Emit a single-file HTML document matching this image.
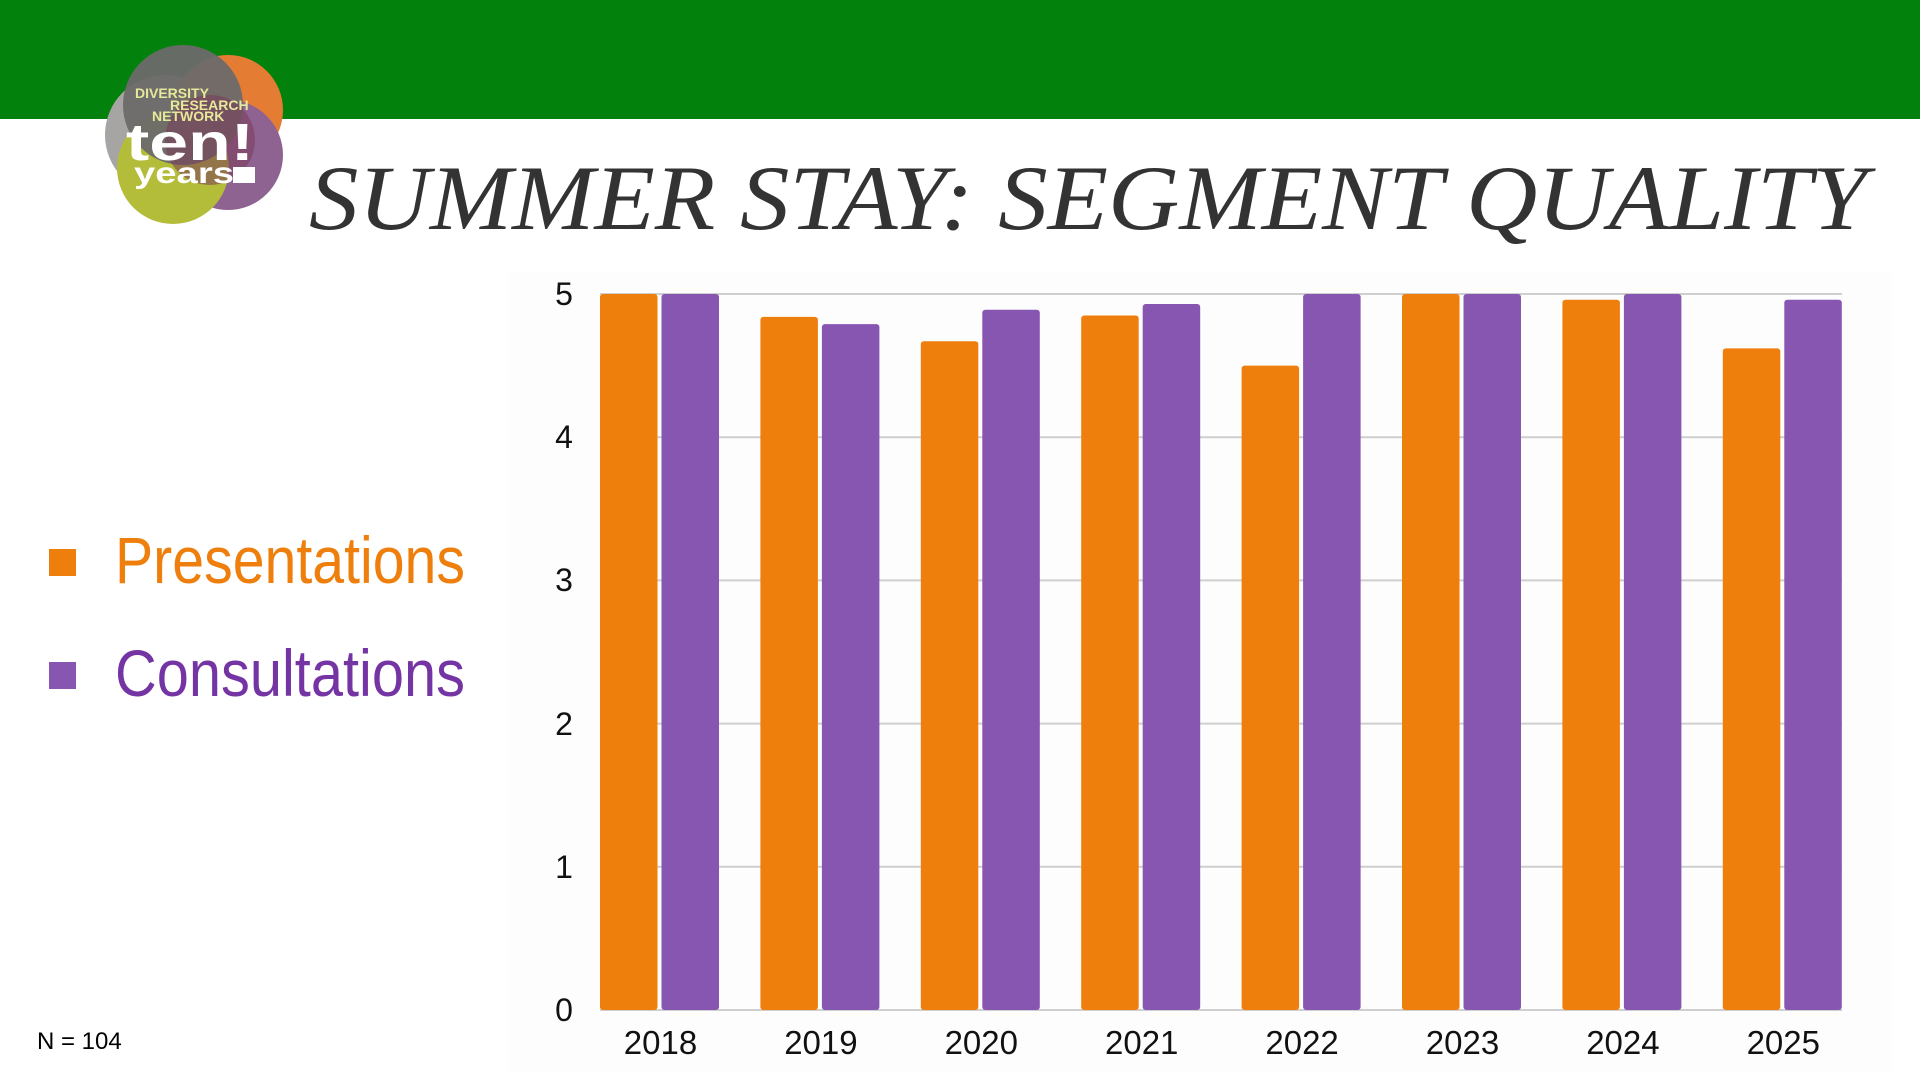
<!DOCTYPE html>
<html><head><meta charset="utf-8"><style>
html,body{margin:0;padding:0;width:1920px;height:1080px;overflow:hidden;background:#fff}
svg{display:block}
</style></head><body>
<svg width="1920" height="1080" viewBox="0 0 1920 1080" xmlns="http://www.w3.org/2000/svg">
<rect x="0" y="0" width="1920" height="1080" fill="#fff"/>
<rect x="0" y="0" width="1920" height="119" fill="#02820c"/>
<rect x="508" y="272" width="1384" height="800" fill="#fdfdfd"/>
<!-- logo -->
<g>
<circle cx="165" cy="135" r="60" fill="#a7a5a3"/>
<circle cx="228" cy="110" r="55" fill="#e57c33"/>
<circle cx="228" cy="155" r="55" fill="#8e6391"/>
<circle cx="173" cy="168" r="56" fill="#b4bd3a"/>
<circle cx="183" cy="105" r="60" fill="#6c6a6a" opacity="0.95"/>
<circle cx="210" cy="140" r="45" fill="#7a3b58" opacity="0.55"/>
<text x="135" y="98" font-family="Liberation Sans, sans-serif" font-weight="bold" font-size="14" fill="#e6e89a">DIVERSITY</text>
<text x="170" y="110" font-family="Liberation Sans, sans-serif" font-weight="bold" font-size="14" fill="#e6e89a">RESEARCH</text>
<text x="152" y="121" font-family="Liberation Sans, sans-serif" font-weight="bold" font-size="14" fill="#e6e89a">NETWORK</text>
<text x="126" y="160" font-family="Liberation Sans, sans-serif" font-weight="bold" font-size="52" fill="#fff" textLength="128" lengthAdjust="spacingAndGlyphs">ten!</text>
<text x="134" y="183" font-family="Liberation Sans, sans-serif" font-weight="bold" font-size="30" fill="#fff" textLength="100" lengthAdjust="spacingAndGlyphs">years</text>
<rect x="233" y="167" width="22" height="16" fill="#fff"/>
</g>
<text x="309" y="229" font-family="Liberation Serif, serif" font-style="italic" font-size="92" fill="#333" textLength="1558" lengthAdjust="spacingAndGlyphs">SUMMER STAY: SEGMENT QUALITY</text>
<!-- legend -->
<rect x="49" y="549" width="27" height="27" fill="#ef7f0c"/>
<text x="115" y="583" font-family="Liberation Sans Narrow, Liberation Sans, sans-serif" font-size="66" fill="#ef7f0c" textLength="350" lengthAdjust="spacingAndGlyphs">Presentations</text>
<rect x="49" y="662" width="27" height="27" fill="#8656b0"/>
<text x="115" y="696" font-family="Liberation Sans Narrow, Liberation Sans, sans-serif" font-size="66" fill="#7534a4" textLength="350" lengthAdjust="spacingAndGlyphs">Consultations</text>
<text x="37" y="1049" font-family="Liberation Sans, sans-serif" font-size="24" fill="#000">N = 104</text>
<!-- grid -->
<g stroke="#cfcfcf" stroke-width="2">
<line x1="600" x2="1842" y1="294" y2="294"/>
<line x1="600" x2="1842" y1="437.2" y2="437.2"/>
<line x1="600" x2="1842" y1="580.4" y2="580.4"/>
<line x1="600" x2="1842" y1="723.6" y2="723.6"/>
<line x1="600" x2="1842" y1="866.8" y2="866.8"/>
<line x1="600" x2="1842" y1="1010" y2="1010"/>
</g>
<g font-family="Liberation Sans, sans-serif" font-size="32" fill="#111" text-anchor="middle">
<text x="564" y="305">5</text>
<text x="564" y="448">4</text>
<text x="564" y="591">3</text>
<text x="564" y="735">2</text>
<text x="564" y="878">1</text>
<text x="564" y="1021">0</text>
</g>
<!-- bars -->
<g fill="#ef7f0c">
<rect x="600" y="294" width="57.5" height="716" rx="3"/>
<rect x="760.4" y="316.9" width="57.5" height="693.1" rx="3"/>
<rect x="920.8" y="341.3" width="57.5" height="668.7" rx="3"/>
<rect x="1081.2" y="315.5" width="57.5" height="694.5" rx="3"/>
<rect x="1241.6" y="365.6" width="57.5" height="644.4" rx="3"/>
<rect x="1402" y="294" width="57.5" height="716" rx="3"/>
<rect x="1562.4" y="299.7" width="57.5" height="710.3" rx="3"/>
<rect x="1722.8" y="348.4" width="57.5" height="661.6" rx="3"/>
</g>
<g fill="#8656b0">
<rect x="661.5" y="294" width="57.5" height="716" rx="3"/>
<rect x="821.9" y="324.1" width="57.5" height="685.9" rx="3"/>
<rect x="982.3" y="309.8" width="57.5" height="700.2" rx="3"/>
<rect x="1142.7" y="304" width="57.5" height="706" rx="3"/>
<rect x="1303.1" y="294" width="57.5" height="716" rx="3"/>
<rect x="1463.5" y="294" width="57.5" height="716" rx="3"/>
<rect x="1623.9" y="294" width="57.5" height="716" rx="3"/>
<rect x="1784.3" y="299.7" width="57.5" height="710.3" rx="3"/>
</g>
<g font-family="Liberation Sans, sans-serif" font-size="33" fill="#111" text-anchor="middle">
<text x="660.5" y="1054">2018</text>
<text x="820.9" y="1054">2019</text>
<text x="981.3" y="1054">2020</text>
<text x="1141.7" y="1054">2021</text>
<text x="1302.1" y="1054">2022</text>
<text x="1462.5" y="1054">2023</text>
<text x="1622.9" y="1054">2024</text>
<text x="1783.3" y="1054">2025</text>
</g>
</svg>
</body></html>
